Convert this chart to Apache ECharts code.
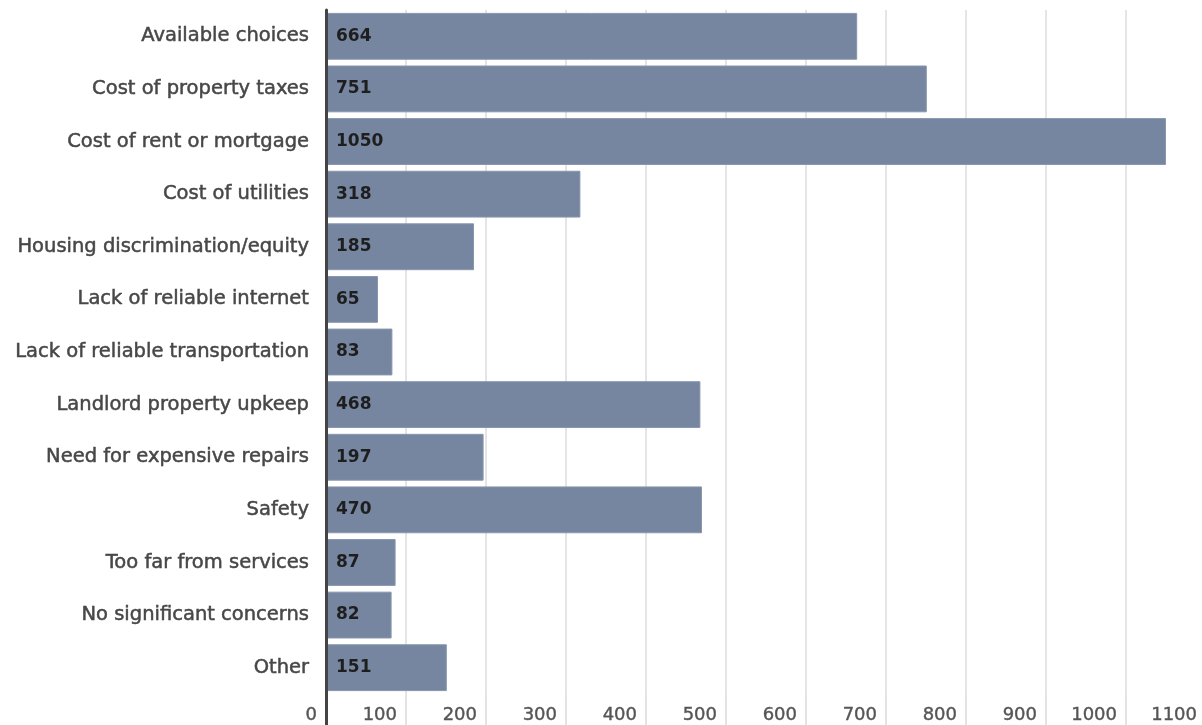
<!DOCTYPE html>
<html>
<head>
<meta charset="utf-8">
<script src="https://cdn.jsdelivr.net/npm/echarts@6/dist/echarts.min.js"></script>
<style>html,body{margin:0;padding:0;background:#fff;overflow:hidden}#c{width:1210px;height:725px}</style>
</head>
<body>
<div id="c"></div>
<script>
const categories = [
  "Available choices",
  "Cost of property taxes",
  "Cost of rent or mortgage",
  "Cost of utilities",
  "Housing discrimination/equity",
  "Lack of reliable internet",
  "Lack of reliable transportation",
  "Landlord property upkeep",
  "Need for expensive repairs",
  "Safety",
  "Too far from services",
  "No significant concerns",
  "Other"
];
const values = [664, 751, 1050, 318, 185, 65, 83, 468, 197, 470, 87, 82, 151];
const axisMin = 0, axisMax = 1100, axisStep = 100;

const chart = echarts.init(document.getElementById('c'), null, {renderer: 'canvas'});
chart.setOption({
  animation: false,
  textStyle: {fontFamily: '"DejaVu Sans", sans-serif'},
  grid: {left: 326, right: 4, top: 10, bottom: 31, containLabel: false},
  xAxis: [{
    type: 'value', min: axisMin, max: axisMax, interval: axisStep,
    axisLine: {show: false},
    axisTick: {show: true, length: 31, lineStyle: {color: '#dcdcdc', width: 1.5}},
    splitLine: {show: true, lineStyle: {color: '#dcdcdc', width: 1.5}},
    axisLabel: {color: '#555', fontSize: 18, align: 'right', padding: [0, 9, 0, 0], margin: 12,
      textBorderColor: '#555', textBorderWidth: 0.4,
      formatter: function (v) { return String(v); }}
  }, {
    type: 'value', min: axisMin, max: axisMax, position: 'bottom', z: 10,
    axisLine: {show: false},
    axisTick: {show: true, customValues: [0], length: 31, lineStyle: {color: '#444', width: 3}},
    splitLine: {show: false},
    axisLabel: {show: false}
  }],
  yAxis: {
    type: 'category', data: categories, inverse: true, z: 10,
    axisLine: {show: true, lineStyle: {color: '#444', width: 3}},
    axisTick: {show: false},
    axisLabel: {color: '#474747', fontSize: 19.5, margin: 17, padding: [3, 0, 0, 0],
      textBorderColor: '#474747', textBorderWidth: 0.5}
  },
  series: [{
    type: 'bar', data: values, xAxisIndex: 0,
    barCategoryGap: '11%',
    itemStyle: {color: '#7686a0', borderColor: '#8896ae', borderWidth: 1},
    label: {show: true, position: 'insideLeft', distance: 10, color: '#1e1e1e', fontWeight: 'bold', fontSize: 17}
  }]
});
</script>
</body>
</html>
